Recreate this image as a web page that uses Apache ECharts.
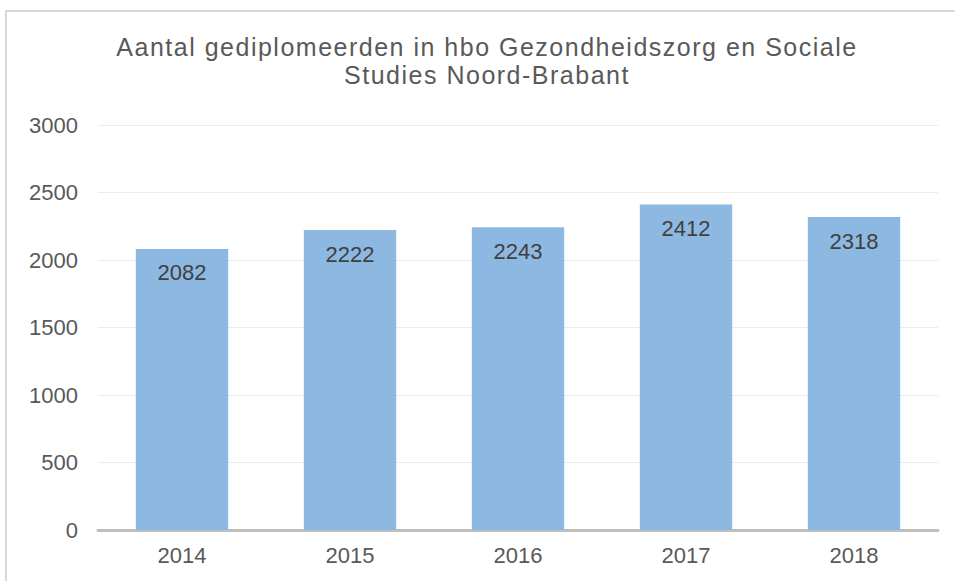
<!DOCTYPE html>
<html>
<head>
<meta charset="utf-8">
<script src="https://cdn.jsdelivr.net/npm/echarts@6/dist/echarts.min.js"></script>
<style>
  html, body { margin: 0; padding: 0; background: #fff; }
  #frame { position: absolute; left: 5px; top: 10px; width: 960px; height: 600px;
           border: 2px solid #d9d9d9; box-sizing: border-box; }
  #chart { position: absolute; left: 0; top: 0; width: 955px; height: 581px; }
</style>
</head>
<body>
<div id="frame"></div>
<div id="chart"></div>
<script>
var years = ['2014', '2015', '2016', '2017', '2018'];
var graduates = [2082, 2222, 2243, 2412, 2318];
var yTicks = { min: 0, max: 3000, interval: 500 };

var FONT = 'Liberation Sans';

var myChart = echarts.init(document.getElementById('chart'), null, { renderer: 'svg' });

var option = {
  animation: false,
  title: {
    text: 'Aantal gediplomeerden in hbo Gezondheidszorg en Sociale\nStudies Noord-Brabant',
    left: 482,
    top: 28,
    textAlign: 'center',
    textStyle: {
      fontFamily: FONT,
      fontSize: 25,
      fontWeight: 'normal',
      color: '#595959',
      lineHeight: 28
    }
  },
  grid: { left: 98, right: 17, top: 125, bottom: 51 },
  xAxis: {
    type: 'category',
    data: years,
    axisLine: { lineStyle: { color: '#bfbfbf', width: 3 } },
    axisTick: { show: false },
    axisLabel: { fontFamily: FONT, fontSize: 22, color: '#595959', margin: 14 }
  },
  yAxis: {
    type: 'value',
    min: yTicks.min,
    max: yTicks.max,
    interval: yTicks.interval,
    axisLine: { show: false },
    axisTick: { show: false },
    axisLabel: {
      fontFamily: FONT, fontSize: 22, color: '#595959', margin: 20,
      formatter: function (v) { return String(v); }
    },
    splitLine: { lineStyle: { color: '#ececec', width: 1 } }
  },
  series: [{
    type: 'bar',
    data: graduates,
    barWidth: '55%',
    itemStyle: { color: '#8db8e2' },
    label: {
      show: true,
      position: 'insideTop',
      distance: 13,
      fontFamily: FONT,
      fontSize: 22,
      color: '#404040'
    }
  }]
};

// the title in the reference is set with a little extra character spacing
function spaceTitle() {
  var texts = document.querySelectorAll('#chart svg text');
  texts.forEach(function (t) {
    var s = t.textContent;
    if (s.indexOf('Aantal') === 0 || s.indexOf('Studies') === 0) {
      t.style.letterSpacing = '1.5px';
    }
  });
}

myChart.on('finished', spaceTitle);
myChart.setOption(option);
spaceTitle();
</script>
</body>
</html>
